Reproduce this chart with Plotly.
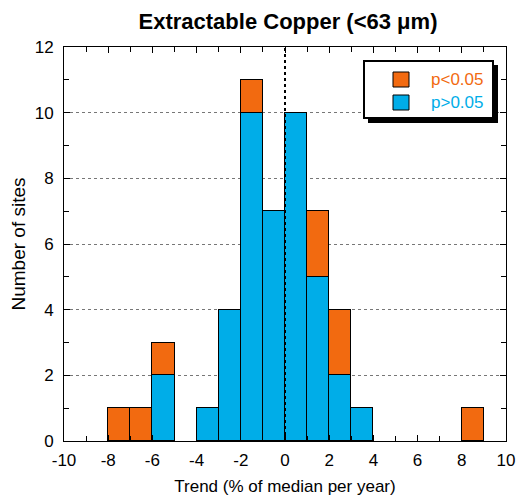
import plotly.graph_objects as go

bin_centers = [-7.5, -6.5, -5.5, -3.5, -2.5, -1.5, -0.5, 0.5, 1.5, 2.5, 3.5, 8.5]
p_gt_005 = [0, 0, 2, 1, 4, 10, 7, 10, 5, 2, 1, 0]
p_lt_005 = [1, 1, 1, 0, 0, 1, 0, 0, 2, 2, 0, 1]
x_ticks = list(range(-10, 11, 2))
x_labels = [str(v) for v in x_ticks]
y_ticks = list(range(0, 13, 2))
y_labels = [str(v) for v in y_ticks]

BLUE = "#00ADE8"
ORANGE = "#F26A10"
FONT = "Liberation Sans, Arial, sans-serif"

L, R, T, B = 64, 506, 47, 441
W, H = 517, 496

fig = go.Figure()
fig.add_trace(go.Bar(x=bin_centers, y=p_gt_005, width=1, marker=dict(color=BLUE, line=dict(color="black", width=1)),
                     name="p>0.05", showlegend=False))
fig.add_trace(go.Bar(x=bin_centers, y=p_lt_005, width=1, marker=dict(color=ORANGE, line=dict(color="black", width=1)),
                     name="p<0.05", showlegend=False))

fig.update_layout(
    width=W, height=H,
    margin=dict(l=L, r=W - R, t=T, b=H - B, autoexpand=False),
    barmode="stack", bargap=0,
    plot_bgcolor="white", paper_bgcolor="white",
    font=dict(family=FONT, size=17, color="black"),
    title=dict(text="<b>Extractable Copper (&lt;63 μm)</b>", x=288 / W, xanchor="center",
               y=1 - 21 / H, yanchor="middle", font=dict(size=22, family=FONT), automargin=False),
)
fig.update_xaxes(
    range=[-10, 10], tickvals=x_ticks, ticktext=x_labels, ticks="inside", ticklen=6, tickcolor="black",
    showline=True, linecolor="black", linewidth=1, mirror="allticks",
    showgrid=False, zeroline=False, automargin=False,
    minor=dict(dtick=1, ticks="inside", ticklen=5, tickcolor="black", showgrid=False),
    title=dict(text="Trend (% of median per year)", font=dict(size=17), standoff=12),
    tickfont=dict(size=17), ticklabelstandoff=4,
)
fig.update_yaxes(
    range=[0, 12], tickvals=y_ticks, ticktext=y_labels, ticks="inside", ticklen=6, tickcolor="black",
    showline=True, linecolor="black", linewidth=1, mirror="allticks",
    showgrid=True, gridcolor="#777777", griddash="3px,3px", gridwidth=1, zeroline=False, automargin=False,
    minor=dict(dtick=1, ticks="inside", ticklen=5, tickcolor="black", showgrid=False),
    title=dict(text="Number of sites", font=dict(size=19), standoff=4),
    tickfont=dict(size=17), ticklabelstandoff=6,
)

# zero reference line
fig.add_shape(type="line", xref="x", yref="paper", x0=0, x1=0, y0=0, y1=1,
              line=dict(color="black", width=2, dash="dot"), layer="above")

# custom legend with shadow
def px_x(p):
    return (p - L) / (R - L)
def px_y(p):
    return (B - p) / (B - T)

fig.add_shape(type="rect", xref="paper", yref="paper", x0=px_x(368), x1=px_x(498), y0=px_y(123), y1=px_y(65),
              fillcolor="black", line=dict(color="black", width=0), layer="above")
fig.add_shape(type="rect", xref="paper", yref="paper", x0=px_x(364), x1=px_x(493), y0=px_y(118), y1=px_y(61),
              fillcolor="white", line=dict(color="black", width=2), layer="above")
fig.add_shape(type="rect", xref="paper", yref="paper", x0=px_x(393), x1=px_x(409), y0=px_y(87), y1=px_y(72),
              fillcolor=ORANGE, line=dict(color="black", width=1), layer="above")
fig.add_shape(type="rect", xref="paper", yref="paper", x0=px_x(393), x1=px_x(409), y0=px_y(110), y1=px_y(95),
              fillcolor=BLUE, line=dict(color="black", width=1), layer="above")
fig.add_annotation(xref="paper", yref="paper", x=px_x(429), y=px_y(79.5), text="p&lt;0.05", showarrow=False,
                   xanchor="left", yanchor="middle", font=dict(size=17, color=ORANGE, family=FONT))
fig.add_annotation(xref="paper", yref="paper", x=px_x(429), y=px_y(102.5), text="p&gt;0.05", showarrow=False,
                   xanchor="left", yanchor="middle", font=dict(size=17, color=BLUE, family=FONT))

fig.write_html("out.html", config={"displayModeBar": False},
               post_script="document.body.style.margin='0';document.body.style.overflow='hidden';")
